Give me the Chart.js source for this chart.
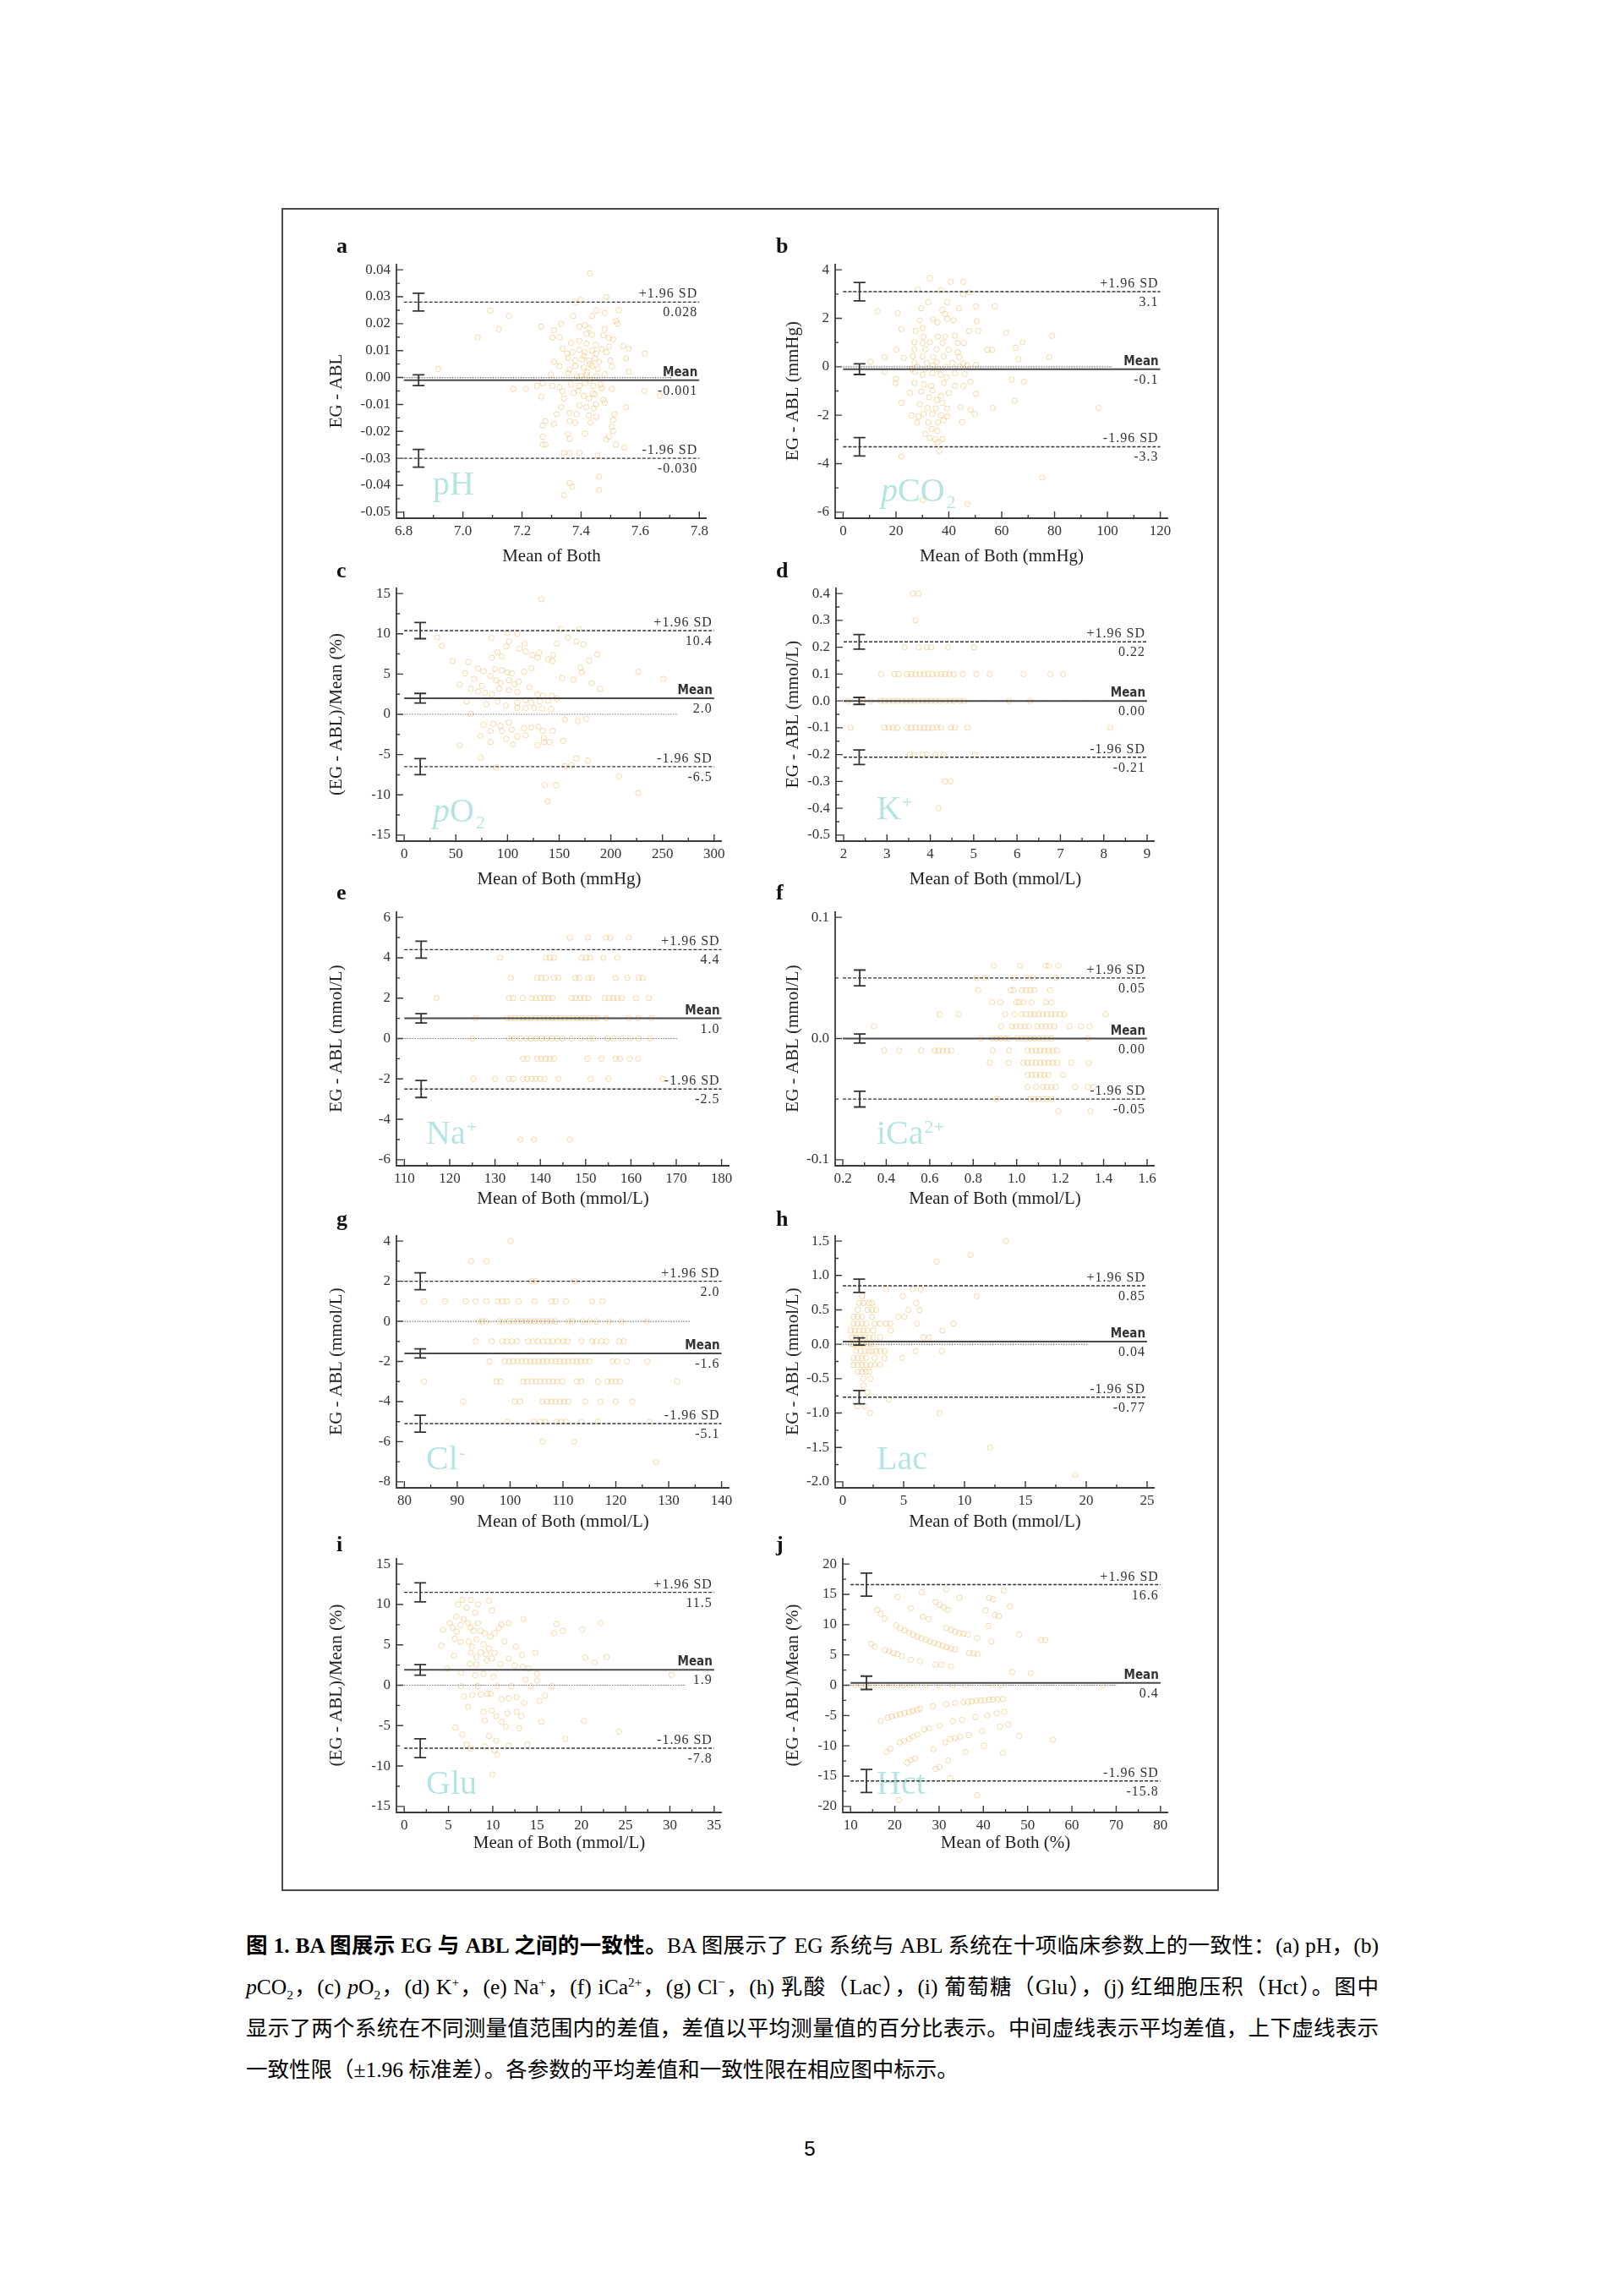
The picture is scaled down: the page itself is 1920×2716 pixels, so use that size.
<!DOCTYPE html>
<html lang="zh">
<head>
<meta charset="UTF-8">
<title>BA 图</title>
<script src="https://cdn.jsdelivr.net/npm/chart.js"></script>
<style>
  body { margin: 0; background: #fff; }
  #page { position: relative; width: 1920px; height: 2716px; overflow: hidden; background: #fff; }
  #frame { position: absolute; left: 333px; top: 246px; width: 1105px; height: 1987px; border: 2px solid #4a4a4a; }
  canvas { position: absolute; }
  #caption { position: absolute; left: 291px; top: 2277px; width: 1340px; color: #000;
    font-family: "Liberation Serif", "Noto Sans CJK SC", serif; font-size: 25.5px; text-autospace: no-autospace; }
  #caption div { height: 49px; line-height: 49px; white-space: nowrap; }
  #caption .j { text-align: justify; text-align-last: justify; }
  #caption sub, #caption sup { font-size: 60%; line-height: 0; }
  #pageno { position: absolute; left: 0; width: 1916px; top: 2527px; text-align: center;
    font-family: "Liberation Sans", sans-serif; font-size: 24px; line-height: 30px; color: #000; }
</style>
</head>
<body>
<div id="page">
  <div id="frame"></div>
  <div id="caption">
    <div class="j"><b>图 1. BA 图展示 EG 与 ABL 之间的一致性。</b>BA 图展示了 EG 系统与 ABL 系统在十项临床参数上的一致性：(a) pH，(b)</div>
    <div class="j"><i>p</i>CO<sub>2</sub>，(c) <i>p</i>O<sub>2</sub>，(d) K<sup>+</sup>，(e) Na<sup>+</sup>，(f) iCa<sup>2+</sup>，(g) Cl<sup>−</sup>，(h) 乳酸（Lac），(i) 葡萄糖（Glu），(j) 红细胞压积（Hct）。图中</div>
    <div class="j">显示了两个系统在不同测量值范围内的差值，差值以平均测量值的百分比表示。中间虚线表示平均差值，上下虚线表示</div>
    <div>一致性限（±1.96 标准差）。各参数的平均差值和一致性限在相应图中标示。</div>
  </div>
  <div id="pageno">5</div>
</div>
<script>
// ---- data ----
const panelLetters = ['a', 'b', 'c', 'd', 'e', 'f', 'g', 'h', 'i', 'j'];
const xTitles = ['Mean of Both', 'Mean of Both (mmHg)', 'Mean of Both (mmHg)', 'Mean of Both (mmol/L)',
  'Mean of Both (mmol/L)', 'Mean of Both (mmol/L)', 'Mean of Both (mmol/L)', 'Mean of Both (mmol/L)',
  'Mean of Both (mmol/L)', 'Mean of Both (%)'];
const yTitles = ['EG - ABL', 'EG - ABL (mmHg)', '(EG - ABL)/Mean (%)', 'EG - ABL (mmol/L)',
  'EG - ABL (mmol/L)', 'EG - ABL (mmol/L)', 'EG - ABL (mmol/L)', 'EG - ABL (mmol/L)',
  '(EG - ABL)/Mean (%)', '(EG - ABL)/Mean (%)'];

const xTicks = [
  [6.8, 7.0, 7.2, 7.4, 7.6, 7.8],
  [0, 20, 40, 60, 80, 100, 120],
  [0, 50, 100, 150, 200, 250, 300],
  [2, 3, 4, 5, 6, 7, 8, 9],
  [110, 120, 130, 140, 150, 160, 170, 180],
  [0.2, 0.4, 0.6, 0.8, 1.0, 1.2, 1.4, 1.6],
  [80, 90, 100, 110, 120, 130, 140],
  [0, 5, 10, 15, 20, 25],
  [0, 5, 10, 15, 20, 25, 30, 35],
  [10, 20, 30, 40, 50, 60, 70, 80]
];
const yTicks = [
  [-0.05, -0.04, -0.03, -0.02, -0.01, 0, 0.01, 0.02, 0.03, 0.04],
  [-6, -4, -2, 0, 2, 4],
  [-15, -10, -5, 0, 5, 10, 15],
  [-0.5, -0.4, -0.3, -0.2, -0.1, 0, 0.1, 0.2, 0.3, 0.4],
  [-6, -4, -2, 0, 2, 4, 6],
  [-0.1, 0, 0.1],
  [-8, -6, -4, -2, 0, 2, 4],
  [-2, -1.5, -1, -0.5, 0, 0.5, 1, 1.5],
  [-15, -10, -5, 0, 5, 10, 15],
  [-20, -15, -10, -5, 0, 5, 10, 15, 20]
];
const xDecimals = [1, 0, 0, 0, 0, 1, 0, 0, 0, 0];
const yDecimals = [2, 0, 0, 1, 0, 1, 0, 1, 0, 0];

const meanDiff = [-0.001, -0.1, 2.0, 0.00, 1.0, 0.00, -1.6, 0.04, 1.9, 0.4];
const upperLoA = [0.028, 3.1, 10.4, 0.22, 4.4, 0.05, 2.0, 0.85, 11.5, 16.6];
const lowerLoA = [-0.030, -3.3, -6.5, -0.21, -2.5, -0.05, -5.1, -0.77, -7.8, -15.8];
const valueDecimals = [3, 1, 1, 2, 1, 2, 1, 2, 1, 1];
const ciHalfLoA = [0.0033, 0.38, 1.0, 0.027, 0.42, 0.0065, 0.42, 0.097, 1.17, 1.9];
const ciHalfMean = [0.002, 0.22, 0.6, 0.013, 0.23, 0.0038, 0.23, 0.053, 0.65, 1.1];
const ciX = [6.85, 6.2, 15.5, 2.36, 113.7, 0.278, 83.0, 1.35, 1.81, 13.6];
const zeroLineEnd = [7.71, 101.9, 264.6, 8.54, 170.4, 1.51, 134.2, 20.2, 31.8, 70.2];

const ptsPH = [[7.43,0.0387],[7.485,0.0299],[7.399,0.0288],[7.38,0.028],[7.093,0.0249],[7.155,0.0228],[7.451,0.0249],[7.48,0.024],[7.528,0.025],[7.437,0.0228],[7.373,0.0228],[7.122,0.018],[7.05,0.0149],[7.265,0.0189],[7.308,0.0176],[7.332,0.0199],[7.303,0.0149],[7.327,0.0149],[7.394,0.0189],[7.413,0.0194],[7.427,0.0183],[7.418,0.0162],[7.437,0.0159],[7.48,0.018],[7.475,0.0157],[7.494,0.0147],[7.508,0.0142],[7.518,0.021],[7.523,0.02],[7.366,0.0128],[7.394,0.0136],[7.418,0.0126],[7.542,0.0117],[7.561,0.0107],[7.616,0.0089],[7.337,0.0107],[7.352,0.0089],[7.371,0.0094],[7.394,0.0103],[7.413,0.0094],[7.437,0.01],[7.451,0.0089],[7.47,0.0105],[7.485,0.0094],[7.494,0.0115],[7.356,0.0073],[7.38,0.0063],[7.404,0.0068],[7.427,0.0063],[7.447,0.0071],[7.461,0.0058],[7.499,0.0063],[7.552,0.0071],[7.308,0.0058],[7.327,0.0042],[7.38,0.0042],[7.409,0.0037],[7.437,0.0042],[7.456,0.0032],[7.504,0.004],[6.917,0.0032],[7.561,0.0021],[7.298,0.0011],[7.356,0.0016],[7.385,0.0005],[7.418,0.0011],[7.451,0.0005],[7.48,0.0013],[7.27,-0.0021],[7.303,-0.0031],[7.327,-0.0036],[7.366,-0.0026],[7.394,-0.0031],[7.413,-0.0021],[7.442,-0.0031],[7.466,-0.0026],[7.504,-0.0042],[7.17,-0.0042],[7.213,-0.0042],[7.251,-0.0031],[7.614,-0.005],[7.666,-0.0068],[7.265,-0.0071],[7.337,-0.0052],[7.375,-0.0057],[7.409,-0.0068],[7.427,-0.0078],[7.447,-0.0063],[7.475,-0.0083],[7.342,-0.0078],[7.394,-0.0104],[7.418,-0.011],[7.442,-0.0115],[7.451,-0.0099],[7.48,-0.0094],[7.552,-0.011],[7.332,-0.011],[7.318,-0.0136],[7.361,-0.0131],[7.385,-0.0136],[7.427,-0.0141],[7.451,-0.0146],[7.513,-0.0136],[7.508,-0.0157],[7.279,-0.0162],[7.27,-0.0178],[7.308,-0.0172],[7.361,-0.0162],[7.38,-0.0167],[7.432,-0.0167],[7.504,-0.0183],[7.508,-0.0199],[7.413,-0.0209],[7.356,-0.0209],[7.361,-0.0228],[7.27,-0.022],[7.494,-0.022],[7.485,-0.023],[7.27,-0.0249],[7.279,-0.0249],[7.518,-0.0249],[7.547,-0.026],[7.342,-0.028],[7.361,-0.028],[7.394,-0.028],[7.456,-0.029],[7.361,-0.0392],[7.37,-0.0406],[7.461,-0.0368],[7.461,-0.0418],[7.342,-0.0437],[7.40,0.0005],[7.43,-0.001],[7.42,0.002],[7.39,-0.005],[7.44,-0.006],[7.41,0.008],[7.45,0.012],[7.36,0.003],[7.47,-0.004],[7.43,0.005]];

const ptsPCO2 = [[32.8,3.65],[40.7,3.51],[45.5,3.51],[37,3.16],[45.5,2.99],[47.7,3.07],[28.3,3.19],[32.2,2.67],[39.4,2.67],[43.9,2.41],[50.3,2.49],[57.4,2.49],[13.1,2.29],[20.7,2.21],[29.6,2.41],[37.6,2.35],[38.6,2.17],[22.1,1.56],[29,1.91],[34,1.98],[35.7,1.83],[39.4,1.98],[41.8,1.91],[30.1,1.59],[27.4,1.48],[47.7,1.48],[51.1,1.48],[50.6,1.88],[61.7,1.4],[79.1,1.28],[30.4,1.24],[35.9,1.24],[38.6,1.24],[42.3,1.28],[27,1.01],[30.1,0.98],[32.8,1.01],[37.6,0.98],[43.4,0.98],[45.7,0.98],[67.9,1.01],[65.2,0.78],[20.2,0.7],[27,0.72],[31.2,0.72],[35.4,0.72],[40,0.7],[43.4,0.6],[54.6,0.7],[56.4,0.7],[26.4,0.43],[30.1,0.43],[34,0.4],[38.1,0.43],[43.9,0.4],[15.7,0.4],[23,0.37],[78,0.4],[66.3,0.31],[10.4,0.2],[27,0.16],[31.7,0.16],[35.4,0.2],[41.3,0.16],[45.5,0.14],[50.3,0.08],[15.7,-0.21],[20,-0.5],[27.2,-0.21],[30.1,-0.33],[33.8,-0.27],[37,-0.33],[39.2,-0.44],[42.3,-0.27],[46,-0.3],[63.8,-0.53],[68.4,-0.62],[19.8,-0.67],[27,-0.67],[30.6,-0.73],[33.3,-0.79],[38.1,-0.67],[42.3,-0.79],[48.2,-0.62],[45.5,-0.79],[25.3,-1.08],[29.6,-1.02],[33.8,-0.97],[37,-1.2],[40,-1.08],[50.3,-1.12],[32.6,-1.26],[35.4,-1.37],[37.6,-1.49],[22.1,-1.49],[29,-1.55],[31.9,-1.7],[35.1,-1.72],[39.4,-1.72],[44.5,-1.66],[56.7,-1.7],[64.9,-1.4],[96.6,-1.7],[25.9,-2.01],[28.5,-2.05],[30.4,-1.95],[33.8,-1.95],[37,-2.01],[39.4,-2.05],[48.2,-1.78],[49.8,-1.95],[28,-2.3],[32.2,-2.3],[35.9,-2.3],[38,-2.21],[45,-2.28],[33.6,-2.56],[35.7,-2.65],[31.1,-2.77],[32.8,-2.94],[34.9,-3.0],[37.6,-2.98],[35.7,-3.12],[36.5,-3.47],[22.1,-3.7],[75.3,-4.57],[30.1,-5.5],[47.1,-5.67],[28,0.0],[31,-0.1],[34,0.05],[36,-0.1],[39,0.0],[44,0.0],[47,0.05],[26,-0.1]];

const ptsPO2 = [[132.6,14.3],[151.6,10.6],[169.3,10.6],[109.4,10.0],[99.9,10.1],[31.9,9.55],[36.5,8.5],[84.4,9.5],[158.4,9.5],[166.7,9.06],[173.5,8.7],[147.8,8.78],[101.3,9.06],[98.6,8.43],[116.5,8.78],[111.6,8.15],[117.4,7.8],[124,7.38],[129.1,7.03],[130.7,7.66],[139.4,6.85],[144.3,7.38],[143.5,6.61],[90.4,7.73],[94.4,7.2],[84.9,7.03],[187,7.45],[179,6.68],[46.8,6.61],[61.8,6.5],[71.3,5.7],[76.8,5.35],[87.7,5.63],[94.4,5.45],[99.9,5.2],[104,5.1],[116,5.28],[123,5.7],[170.7,5.8],[172,5.2],[164,4.3],[153,4.5],[226.5,5.28],[251,4.4],[53.6,3.71],[59,5.1],[67.8,4.4],[75.2,3.53],[83.6,4.76],[89,4.23],[93.1,3.88],[101.3,4.23],[106.7,3.71],[110.8,4.06],[64.5,3.18],[71.3,2.83],[78.1,2.66],[84.9,2.48],[91.8,3.18],[101.3,3.0],[109.4,2.76],[121.3,3.36],[129.1,2.48],[134.5,2.31],[142.9,2.31],[181.6,3.88],[189.8,3.18],[60.4,1.6],[79.5,1.26],[90.4,1.6],[98.6,1.08],[109.4,1.43],[117.6,1.78],[123,1.43],[131.2,1.6],[139.4,1.71],[147.8,1.96],[64.5,0.03],[109.4,0.8],[117.6,0.8],[125.8,0.8],[133.4,0.73],[142.2,0.66],[155.7,-0.66],[168,-0.84],[176,-0.59],[76.8,-1.29],[86.3,-1.19],[93.1,-1.43],[101.3,-1.01],[83.6,-2.06],[94.4,-2.06],[104,-1.89],[116,-1.71],[123,-1.64],[129.9,-1.54],[134.2,-2.06],[143.5,-2.06],[74,-2.7],[109.4,-2.76],[117.6,-2.59],[135.3,-2.94],[135.3,-3.46],[83.6,-3.46],[98.6,-3.04],[105.4,-3.74],[129.1,-3.81],[140.8,-3.46],[153.8,-3.29],[53.6,-3.81],[74,-5.38],[166.6,-5.49],[177.5,-5.73],[155.7,-6.43],[161.7,-6.33],[89,-6.61],[208,-7.73],[136,-8.8],[147,-8.8],[138.8,-10.8],[226.5,-9.76]];

// discrete-valued panels: [difference, [means...]]
const rowsK = [
  [0.4, [3.60, 3.73]],
  [0.3, [3.66]],
  [0.2, [3.41, 3.73, 3.92, 4.02, 4.41, 5.01]],
  [0.1, [2.87, 3.17, 3.27, 3.46, 3.56, 3.66, 3.76, 3.86, 3.95, 4.05, 4.15, 4.25, 4.34, 4.44, 4.54, 4.75, 5.06, 5.37, 6.15, 6.77, 7.06]],
  [0.0, [2.10, 2.45, 2.62, 2.85, 2.95, 3.05, 3.15, 3.25, 3.35, 3.45, 3.55, 3.62, 3.72, 3.82, 3.92, 4.02, 4.12, 4.22, 4.35, 4.45, 4.55, 4.68, 4.78, 5.82, 6.30]],
  [-0.1, [2.16, 2.94, 3.04, 3.14, 3.24, 3.46, 3.56, 3.66, 3.76, 3.86, 3.95, 4.05, 4.15, 4.25, 4.47, 4.57, 4.86, 8.15]],
  [-0.2, [3.53, 3.63, 3.82, 3.92, 4.12, 4.31, 5.03]],
  [-0.3, [4.34, 4.47]],
  [-0.4, [4.19]]
];
const rowsNa = [
  [5, [146.5, 150.5, 154.5, 155.4, 159.5]],
  [4, [131.1, 141.2, 142.1, 143.0, 149.1, 150.1, 151.0, 153.9, 157.0]],
  [3, [133.5, 139.3, 140.2, 141.2, 143.0, 144.0, 147.7, 148.6, 150.5, 151.4, 156.6, 159.2, 161.7, 162.6]],
  [2, [117.1, 133.1, 134.0, 136.1, 138.1, 139.0, 140.0, 140.9, 141.8, 142.7, 146.9, 147.8, 148.8, 149.7, 150.6, 154.2, 155.2, 156.1, 157.0, 158.0, 161.1, 164.0]],
  [1, [125.7, 132.6, 133.5, 134.4, 135.3, 136.2, 137.1, 138.0, 139.0, 139.9, 140.8, 141.7, 142.6, 143.5, 144.4, 145.4, 146.3, 147.2, 148.1, 149.0, 149.9, 150.9, 151.8, 152.7, 154.5, 159.5, 161.6, 164.5]],
  [0, [125.0, 133.1, 134.2, 135.6, 136.8, 137.9, 139.1, 140.3, 141.4, 142.6, 143.7, 144.9, 146.9, 148.9, 150.8, 151.7, 154.8, 156.1, 158.0, 159.8, 161.7, 164.2]],
  [-1, [136.2, 137.1, 139.3, 140.2, 141.2, 142.1, 143.0, 150.4, 153.5, 156.6, 157.6, 159.7, 161.6]],
  [-2, [125.2, 130.0, 133.1, 134.0, 136.2, 137.1, 138.1, 139.0, 140.0, 140.9, 144.0, 151.1, 155.0, 167.0]],
  [-5, [135.6, 138.6, 146.5]]
];
const rowsCa = [
  [0.06, [0.894, 1.015, 1.134, 1.147, 1.192]],
  [0.05, [0.816, 0.855, 0.989, 1.05, 1.076, 1.179]],
  [0.04, [0.823, 0.972, 0.985, 1.024, 1.043, 1.063, 1.082, 1.153]],
  [0.03, [0.887, 0.926, 0.998, 1.011, 1.03, 1.069, 1.134, 1.16]],
  [0.02, [0.645, 0.734, 0.946, 0.991, 1.024, 1.043, 1.063, 1.082, 1.101, 1.121, 1.14, 1.16, 1.179, 1.199, 1.218, 1.409]],
  [0.01, [0.343, 0.929, 0.978, 0.998, 1.017, 1.037, 1.056, 1.095, 1.115, 1.134, 1.153, 1.173, 1.244, 1.296, 1.335]],
  [0.0, [0.836, 0.887, 0.907, 0.926, 0.946, 0.965, 1.004, 1.024, 1.043, 1.063, 1.082, 1.101, 1.121, 1.14, 1.16, 1.328]],
  [-0.01, [0.391, 0.459, 0.561, 0.622, 0.641, 0.661, 0.68, 0.699, 0.89, 0.965, 1.05, 1.069, 1.089, 1.108, 1.127, 1.147, 1.166, 1.186]],
  [-0.02, [0.877, 0.963, 1.03, 1.05, 1.069, 1.089, 1.108, 1.127, 1.147, 1.166, 1.186, 1.251, 1.331]],
  [-0.03, [1.05, 1.069, 1.089, 1.108, 1.127, 1.147, 1.212]],
  [-0.04, [1.05, 1.089, 1.121, 1.14, 1.16, 1.179, 1.27, 1.328, 1.354]],
  [-0.05, [0.907, 1.063, 1.082, 1.101, 1.121, 1.14, 1.16]],
  [-0.06, [1.192, 1.339]]
];
const rowsCl = [
  [4, [100.1]],
  [3, [92.6, 95.5]],
  [2, [104.1, 104.9, 112.2]],
  [1, [83.7, 87.7, 91.6, 93.5, 95.5, 97.6, 98.5, 99.4, 101.6, 104.6, 107.8, 108.6, 110.6, 115.5, 117.5]],
  [0, [94.0, 94.7, 95.5, 97.9, 98.7, 99.8, 100.6, 101.4, 102.2, 103.0, 103.8, 104.6, 105.4, 106.2, 107.0, 107.8, 108.6, 111.0, 111.8, 113.7, 115.0, 116.3, 118.7, 121.1, 125.9]],
  [-1, [93.5, 96.5, 98.5, 99.4, 100.3, 101.3, 103.4, 104.3, 105.3, 106.2, 107.2, 108.1, 109.0, 110.0, 110.9, 113.5, 115.5, 116.3, 117.3, 118.2, 120.6, 121.5]],
  [-2, [96.1, 99.0, 99.8, 100.6, 101.4, 102.2, 103.0, 103.8, 104.6, 105.4, 106.2, 107.0, 107.8, 108.6, 109.4, 110.2, 111.0, 111.8, 112.6, 113.4, 114.2, 115.0, 119.4, 120.3, 122.1, 126.0]],
  [-3, [83.7, 97.4, 98.2, 102.5, 103.3, 104.1, 104.9, 105.7, 106.5, 107.3, 108.1, 108.9, 109.9, 112.6, 113.4, 116.6, 118.4, 119.2, 120.0, 120.8, 131.6]],
  [-4, [91.1, 100.9, 101.9, 106.1, 107.0, 107.8, 108.6, 109.4, 110.2, 111.0, 114.2, 117.1, 120.0, 123.1]],
  [-5, [99.5, 104.5, 105.7, 106.6, 108.8, 109.7, 110.5, 113.5, 116.6, 126.4]],
  [-6, [106.1, 112.1]],
  [-7, [127.6]]
];
const rowsLac = [
  [1.5, [13.4]],
  [1.3, [10.5]],
  [1.2, [7.7]],
  [0.8, [3.55, 5.75, 6.4]],
  [0.7, [1.58, 4.94, 11.0]],
  [0.6, [1.35, 1.69, 2.16, 2.39, 6.03]],
  [0.5, [1.23, 2.04, 2.39, 2.74, 5.4, 6.3]],
  [0.4, [0.88, 1.23, 1.58, 2.39, 4.55, 5.06]],
  [0.3, [0.88, 1.23, 1.58, 1.92, 2.62, 3.08, 3.55, 3.9, 6.1, 9.1]],
  [0.2, [0.65, 1.0, 1.35, 1.69, 2.04, 2.5, 3.94, 8.19]],
  [0.1, [0.77, 1.11, 1.46, 1.81, 2.16, 2.5, 3.08, 6.63, 7.1]],
  [0.0, [0.7, 0.9, 1.1, 1.3, 1.5, 1.7, 2.0, 2.3, 2.7]],
  [-0.1, [1.11, 1.46, 1.81, 2.16, 2.39, 2.74, 3.08, 3.43, 5.98, 8.12]],
  [-0.2, [0.88, 1.23, 1.58, 1.92, 2.62, 3.43, 4.87]],
  [-0.3, [0.88, 1.23, 1.58, 1.92, 2.27, 2.62, 3.08]],
  [-0.4, [1.23, 1.58, 1.92, 2.16]],
  [-0.5, [1.69, 2.27]],
  [-0.6, [1.69]],
  [-0.7, [2.04]],
  [-0.8, [3.78]],
  [-0.9, [1.23, 1.81]],
  [-1.0, [2.23, 7.95]],
  [-1.5, [12.1]],
  [-1.9, [19.1]]
];

const ptsGlu = [[6.57,10.57],[7.53,10.57],[6.1,10.0],[8.32,10.0],[9.59,10.47],[9.9,9.24],[8.0,8.97],[7.05,9.6],[13.46,8.2],[5.87,8.48],[4.35,6.87],[5.14,7.68],[5.46,7.15],[5.94,6.63],[6.35,7.43],[6.73,8.2],[7.2,7.68],[7.5,7.15],[7.84,6.73],[8.32,7.68],[8.64,6.73],[9.1,6.45],[9.75,6.04],[10.2,6.45],[10.7,7.08],[11.0,7.5],[11.8,7.68],[17.2,7.57],[17.9,6.73],[16.9,6.45],[20.1,6.9],[22.2,7.68],[4.19,4.88],[5.62,3.66],[5.72,5.76],[6.4,5.34],[7.3,5.4],[7.68,4.78],[8.16,5.69],[8.96,5.06],[9.59,4.54],[9.27,3.84],[10.2,4.01],[8.64,4.08],[7.53,4.01],[8.16,3.49],[9.33,3.04],[9.9,3.31],[11.33,5.41],[11.8,3.31],[12.6,4.78],[13.3,3.73],[14.8,4.01],[20.45,3.42],[21.5,2.79],[22.86,3.49],[4.83,2.1],[6.4,1.57],[7.43,2.62],[8.16,2.55],[8.0,1.22],[8.96,1.4],[10.07,1.05],[10.86,2.62],[12.5,2.44],[13.4,2.27],[14.04,2.09],[14.99,1.4],[13.7,0.7],[15.0,0.59],[30.2,1.29],[6.4,-0.1],[8.3,-0.1],[10.5,-0.1],[12.1,-0.1],[14.3,-0.1],[16.7,-0.1],[6.73,-1.39],[7.68,-1.22],[8.64,-1.15],[9.4,-1.05],[9.75,-1.05],[11.0,-1.74],[11.8,-1.64],[12.7,-1.5],[13.56,-2.2],[15.3,-1.92],[15.9,-1.29],[7.2,-2.68],[8.96,-3.31],[9.9,-3.14],[11.65,-3.49],[12.7,-3.31],[13.24,-3.84],[9.1,-4.36],[10.4,-3.84],[11.0,-4.53],[11.5,-5.13],[13.0,-5.33],[15.47,-4.53],[20.3,-4.43],[5.78,-5.23],[6.57,-6.1],[9.59,-6.28],[10.4,-6.87],[7.05,-7.32],[7.53,-7.85],[9.1,-7.57],[10.2,-8.02],[11.8,-7.5],[13.9,-7.32],[10.5,-8.61],[18.2,-6.63],[24.26,-5.75],[9.97,-11.05]];

const ptsHct = [[26.1,15.35],[31.6,15.8],[20.6,14.56],[34.6,14.42],[41.3,14.42],[42.2,14.19],[44.6,15.58],[23.6,12.7],[29.2,13.72],[30.1,13.26],[31.1,12.88],[32.0,12.42],[40.5,12.33],[42.6,11.63],[43.5,11.4],[46.0,13.02],[16.0,12.42],[16.8,11.77],[17.75,11.02],[26.3,11.3],[27.6,10.93],[41.1,9.77],[20.3,9.9],[21.2,9.44],[22.2,9.07],[23.2,8.7],[24.1,8.37],[25.1,8.05],[26.0,7.77],[27.0,7.49],[27.9,7.21],[28.9,6.98],[29.8,6.74],[30.8,6.51],[31.7,6.28],[32.7,6.05],[33.6,5.91],[31.6,9.44],[32.7,9.16],[33.6,8.84],[34.6,8.6],[35.5,8.51],[36.5,8.37],[38.6,7.77],[41.8,7.21],[48.1,8.37],[53.0,7.44],[54.0,7.44],[14.7,6.84],[15.5,6.37],[17.75,5.81],[18.7,5.58],[19.7,5.35],[20.6,5.12],[21.6,4.79],[23.6,4.19],[25.7,3.95],[29.2,3.4],[30.5,3.4],[32.7,3.12],[36.8,5.35],[37.8,5.26],[38.7,5.12],[46.5,2.19],[50.7,2.0],[11.0,0],[12.3,0],[13.6,0],[15.0,0],[16.4,0],[17.8,0],[19.2,0],[20.6,0],[22.0,0],[23.4,0],[25.0,0],[27.0,0],[30.0,0],[33.0,0],[36.0,0],[42.0,0],[44.0,0],[67.0,0],[16.8,-5.9],[18.4,-5.35],[19.3,-5.16],[20.3,-4.98],[21.2,-4.79],[22.2,-4.6],[23.2,-4.42],[24.1,-4.23],[25.1,-4.05],[25.7,-3.86],[28.6,-3.49],[31.6,-3.12],[33.6,-2.93],[35.5,-2.79],[36.5,-2.74],[37.4,-2.65],[38.4,-2.56],[39.4,-2.51],[40.3,-2.47],[41.3,-2.42],[42.2,-2.37],[43.2,-2.33],[44.4,-2.28],[43.0,-4.65],[40.9,-4.98],[44.7,-4.42],[38.2,-5.26],[35.2,-5.72],[33.1,-5.9],[30.1,-6.65],[27.8,-7.12],[26.6,-7.3],[43.7,-6.84],[45.6,-6.51],[39.7,-7.58],[36.7,-8.23],[34.8,-8.51],[33.6,-8.7],[32.5,-8.88],[31.4,-9.44],[48.1,-8.37],[55.7,-8.98],[21.1,-9.44],[22.1,-9.16],[23.2,-8.84],[24.1,-8.51],[25.1,-8.14],[19.0,-10.47],[18.1,-11.02],[40.1,-10.0],[36.0,-11.02],[44.4,-11.16],[28.7,-10.56],[32.0,-12.42],[22.8,-12.79],[23.6,-12.33],[24.6,-12.09],[29.2,-13.81],[30.1,-13.49],[32.5,-15.35],[38.6,-18.14],[20.9,-18.93]];

// ---- layout: plot box on the page [left, right, top, bottom, x-title centre y] ----
const plotBoxes = [
  [469, 836, 312, 613, 658], [988, 1382, 312, 613, 658],
  [469, 854, 695, 995, 1040], [989, 1366, 695, 995, 1040],
  [469, 863, 1078, 1379, 1418], [988, 1366, 1078, 1379, 1418],
  [469, 863, 1461, 1760, 1800], [988, 1366, 1461, 1760, 1800],
  [469, 854, 1843, 2144, 2180], [997, 1382, 1843, 2144, 2180]
];
const letterBaselines = [299, 299, 683, 683, 1064, 1064, 1450, 1450, 1835, 1835];
// watermark offset from plot left / above plot bottom, and its pieces
const markOffsets = [[43, 28], [54, 20], [43, 23], [48, 26], [35, 26], [49, 26], [35, 22], [49, 22], [35, 22], [40, 22]];
const markParts = [
  [['pH', 'n']], [['p', 'i'], ['CO', 'n'], ['2', 'sub']], [['p', 'i'], ['O', 'n'], ['2', 'sub']],
  [['K', 'n'], ['+', 'sup']], [['Na', 'n'], ['+', 'sup']], [['iCa', 'n'], ['2+', 'sup']],
  [['Cl', 'n'], ['-', 'sup']], [['Lac', 'n']], [['Glu', 'n']], [['Hct', 'n']]
];

function rowsToPoints(rows) { return rows.flatMap(([y, xs]) => xs.map(x => ({x, y}))); }
function pairsToPoints(p) { return p.map(([x, y]) => ({x, y})); }
const panelPoints = [pairsToPoints(ptsPH), pairsToPoints(ptsPCO2), pairsToPoints(ptsPO2),
  rowsToPoints(rowsK), rowsToPoints(rowsNa), rowsToPoints(rowsCa), rowsToPoints(rowsCl),
  rowsToPoints(rowsLac), pairsToPoints(ptsGlu), pairsToPoints(ptsHct)];

const SERIF = '"Liberation Serif", "DejaVu Serif", serif';
const INK = '#333';

function fmt(v, d) { return (Math.abs(v) < 1e-12 ? 0 : v).toFixed(d); }

const baPlugin = {
  id: 'ba',
  beforeDatasetsDraw(chart) {
    const i = chart.options.plugins.ba.idx;
    const ctx = chart.ctx, a = chart.chartArea;
    let x = a.left + markOffsets[i][0];
    const base = a.bottom - markOffsets[i][1];
    ctx.save();
    ctx.fillStyle = 'rgba(120, 208, 202, 0.55)';
    ctx.textAlign = 'left';
    ctx.textBaseline = 'alphabetic';
    markParts[i].forEach(([t, s]) => {
      let y = base;
      if (s === 'n') ctx.font = '40px ' + SERIF;
      if (s === 'i') ctx.font = 'italic 40px ' + SERIF;
      if (s === 'sub') { ctx.font = '22px ' + SERIF; y = base + 8; x += 2; }
      if (s === 'sup') { ctx.font = '22px ' + SERIF; y = base - 13; x += 1; }
      ctx.fillText(t, x, y);
      x += ctx.measureText(t).width;
    });
    ctx.restore();
  },
  afterDatasetsDraw(chart) {
    const i = chart.options.plugins.ba.idx;
    const ctx = chart.ctx, a = chart.chartArea;
    const xs = chart.scales.x, ys = chart.scales.y;
    ctx.save();
    // axes with inward ticks
    ctx.strokeStyle = '#3a3a3a';
    ctx.lineWidth = 1.8;
    ctx.beginPath();
    ctx.moveTo(a.left, a.top); ctx.lineTo(a.left, a.bottom); ctx.lineTo(a.right, a.bottom);
    ctx.stroke();
    ctx.lineWidth = 1.4;
    ctx.beginPath();
    const yt = yTicks[i], xt = xTicks[i];
    yt.forEach((v, k) => {
      const p = ys.getPixelForValue(v);
      ctx.moveTo(a.left, p); ctx.lineTo(a.left + 8, p);
      if (k < yt.length - 1) {
        const m = ys.getPixelForValue((v + yt[k + 1]) / 2);
        ctx.moveTo(a.left, m); ctx.lineTo(a.left + 4, m);
      }
    });
    xt.forEach((v, k) => {
      const p = xs.getPixelForValue(v);
      ctx.moveTo(p, a.bottom); ctx.lineTo(p, a.bottom - 8);
      if (k < xt.length - 1) {
        const m = xs.getPixelForValue((v + xt[k + 1]) / 2);
        ctx.moveTo(m, a.bottom); ctx.lineTo(m, a.bottom - 4);
      }
    });
    ctx.stroke();

    // confidence-interval bars
    const cx = xs.getPixelForValue(ciX[i]);
    ctx.strokeStyle = '#333';
    ctx.lineWidth = 1.8;
    [[upperLoA[i], ciHalfLoA[i]], [meanDiff[i], ciHalfMean[i]], [lowerLoA[i], ciHalfLoA[i]]].forEach(([c, h]) => {
      const y1 = ys.getPixelForValue(c + h), y2 = ys.getPixelForValue(c - h);
      ctx.beginPath();
      ctx.moveTo(cx, y1); ctx.lineTo(cx, y2);
      ctx.moveTo(cx - 7, y1); ctx.lineTo(cx + 7, y1);
      ctx.moveTo(cx - 7, y2); ctx.lineTo(cx + 7, y2);
      ctx.stroke();
    });

    // line labels
    const xr = xs.getPixelForValue(xt[xt.length - 1]) - 2;
    const d = valueDecimals[i];
    ctx.fillStyle = INK;
    ctx.textAlign = 'right';
    ctx.textBaseline = 'alphabetic';
    const yU = ys.getPixelForValue(upperLoA[i]);
    const yM = ys.getPixelForValue(meanDiff[i]);
    const yL = ys.getPixelForValue(lowerLoA[i]);
    ctx.letterSpacing = '1px';
    ctx.font = '16px ' + SERIF;
    ctx.fillText('+1.96 SD', xr, yU - 5);
    ctx.fillText(fmt(upperLoA[i], d), xr, yU + 17);
    ctx.fillText('-1.96 SD', xr, yL - 5);
    ctx.fillText(fmt(lowerLoA[i], d), xr, yL + 17);
    ctx.fillText(fmt(meanDiff[i], d), xr, yM + 17);
    ctx.letterSpacing = '0px';
    ctx.font = 'bold 15px "Liberation Sans Narrow", "DejaVu Sans Condensed", sans-serif';
    ctx.fillText('Mean', xr, yM - 5);

    ctx.restore();
  },
  afterDraw(chart) {
    const i = chart.options.plugins.ba.idx;
    const o = chart.options.plugins.ba;
    const ctx = chart.ctx;
    ctx.save();
    ctx.fillStyle = '#111';
    ctx.font = 'bold 26px ' + SERIF;
    ctx.textAlign = 'left';
    ctx.textBaseline = 'alphabetic';
    const lx = i % 2 === 0 ? 398 : 918;
    ctx.fillText(panelLetters[i], lx - o.canvasLeft, letterBaselines[i] - o.canvasTop);
    ctx.restore();
  }
};

const page = document.getElementById('page');

plotBoxes.forEach((box, i) => {
  const [L, R, T, B, titleY] = box;
  const leftCol = i % 2 === 0;
  const CL = leftCol ? 380 : 905;
  const padL = leftCol ? 6 : 21;
  const CT = T - 40, CR = R + 25, CB = Math.round(titleY + 12.6);
  const cv = document.createElement('canvas');
  cv.width = CR - CL;
  cv.height = CB - CT;
  cv.style.left = CL + 'px';
  cv.style.top = CT + 'px';
  page.appendChild(cv);

  const xt = xTicks[i], yt = yTicks[i];
  const x0 = xt[0], x1 = xt[xt.length - 1];
  const xPad = 0.025 * (x1 - x0), yPad = 0.025 * (yt[yt.length - 1] - yt[0]);
  const refLine = (yv, xEnd, style) => Object.assign({
    data: [{x: x0, y: yv}, {x: xEnd, y: yv}], showLine: true, pointRadius: 0, fill: false
  }, style);

  new Chart(cv, {
    type: 'scatter',
    data: {
      datasets: [
        refLine(upperLoA[i], x1, {borderColor: '#333', borderWidth: 1.4, borderDash: [4, 2]}),
        refLine(lowerLoA[i], x1, {borderColor: '#333', borderWidth: 1.4, borderDash: [4, 2]}),
        refLine(meanDiff[i], x1, {borderColor: '#4a4a4a', borderWidth: 2}),
        refLine(0, zeroLineEnd[i], {borderColor: '#777', borderWidth: 1.2, borderDash: [1.5, 1.5]}),
        {
          data: panelPoints[i],
          pointRadius: 3.2,
          pointBorderWidth: 1,
          borderColor: 'rgba(236, 186, 96, 0.55)',
          backgroundColor: 'rgba(0, 0, 0, 0)'
        }
      ]
    },
    options: {
      responsive: false,
      animation: false,
      devicePixelRatio: 1,
      events: [],
      layout: {padding: {left: padL, top: 40, right: 25, bottom: 0}},
      plugins: {
        legend: {display: false},
        tooltip: {enabled: false},
        ba: {idx: i, canvasLeft: CL, canvasTop: CT}
      },
      scales: {
        x: {
          type: 'linear', position: 'bottom',
          min: x0 - xPad, max: x1 + xPad,
          grid: {display: false, drawTicks: false},
          border: {display: false},
          afterBuildTicks: s => { s.ticks = xt.map(v => ({value: v})); },
          afterFit: s => { s.height = CB - B; },
          ticks: {
            autoSkip: false, maxRotation: 0, minRotation: 0, padding: 5,
            color: INK, font: {family: SERIF, size: 17},
            callback: v => fmt(v, xDecimals[i])
          },
          title: {display: true, text: xTitles[i], color: '#222', padding: 0, font: {family: SERIF, size: 21}}
        },
        y: {
          type: 'linear', position: 'left',
          min: yt[0] - yPad, max: yt[yt.length - 1] + yPad,
          grid: {display: false, drawTicks: false},
          border: {display: false},
          afterBuildTicks: s => { s.ticks = yt.map(v => ({value: v})); },
          afterFit: s => { s.width = L - CL - padL; },
          ticks: {
            autoSkip: false, padding: 7,
            color: INK, font: {family: SERIF, size: 17},
            callback: v => fmt(v, yDecimals[i])
          },
          title: {display: true, text: yTitles[i], color: '#222', padding: 0, font: {family: SERIF, size: 21}}
        }
      }
    },
    plugins: [baPlugin]
  });
});
</script>
</body>
</html>
